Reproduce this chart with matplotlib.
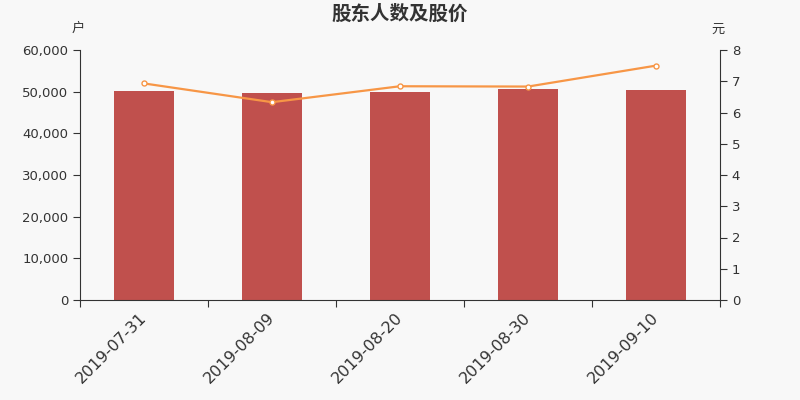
import matplotlib.pyplot as plt
from matplotlib.ticker import FuncFormatter

plt.rcParams['font.family'] = ['Noto Sans CJK SC', 'DejaVu Sans']

dates = ['2019-07-31', '2019-08-09', '2019-08-20', '2019-08-30', '2019-09-10']
holders = [50100, 49700, 49900, 50700, 50300]
prices = [6.93, 6.33, 6.84, 6.83, 7.50]

bg = '#f8f8f8'
axis_color = '#333333'

fig = plt.figure(figsize=(8, 4), dpi=100, facecolor=bg)
ax = fig.add_axes([0.1, 0.25, 0.8, 0.625], facecolor=bg)
ax2 = ax.twinx()

x = list(range(len(dates)))
ax.bar(x, holders, width=0.47, color='#c0504d', zorder=2)
ax.set_xlim(-0.5, len(dates) - 0.5)
ax.set_ylim(0, 60000)
ax.set_yticks(range(0, 60001, 10000))
ax.yaxis.set_major_formatter(FuncFormatter(lambda v, p: f'{int(v):,}'))

ax2.plot(x, prices, color='#f79646', lw=1.6, marker='o', ms=3.6,
         markerfacecolor='white', markeredgecolor='#f79646', mew=1, zorder=3)
ax2.set_ylim(0, 8)
ax2.set_yticks(range(0, 9))

ax.set_xticks([i - 0.5 for i in range(len(dates) + 1)])
ax.set_xticklabels([])
ax.set_xticks(x, minor=True)
ax.set_xticklabels(dates, minor=True, rotation=45, ha='right', va='center',
                   rotation_mode='anchor', fontsize=11.5, color=axis_color,
                   family='DejaVu Sans')
ax.tick_params(axis='x', which='minor', length=0, pad=11)
ax.tick_params(axis='x', which='major', length=5, color=axis_color)

for a in (ax, ax2):
    a.spines['top'].set_visible(False)
    a.spines['bottom'].set_color(axis_color)
    a.tick_params(axis='y', labelsize=9.5, colors=axis_color, length=5)
    for lab in a.get_yticklabels():
        lab.set_family('DejaVu Sans')
ax.spines['right'].set_visible(False)
ax2.spines['left'].set_visible(False)
ax.spines['left'].set_color(axis_color)
ax2.spines['right'].set_color(axis_color)
ax2.spines['bottom'].set_visible(False)

fig.text(0.5, 0.965, '股东人数及股价', ha='center', va='center', fontsize=14,
         fontweight='bold', color=axis_color)
fig.text(0.098, 0.928, '户', ha='center', va='center', fontsize=9.5, color=axis_color)
fig.text(0.898, 0.928, '元', ha='center', va='center', fontsize=9.5, color=axis_color)

fig.savefig('out.png', dpi=100, facecolor=bg)
